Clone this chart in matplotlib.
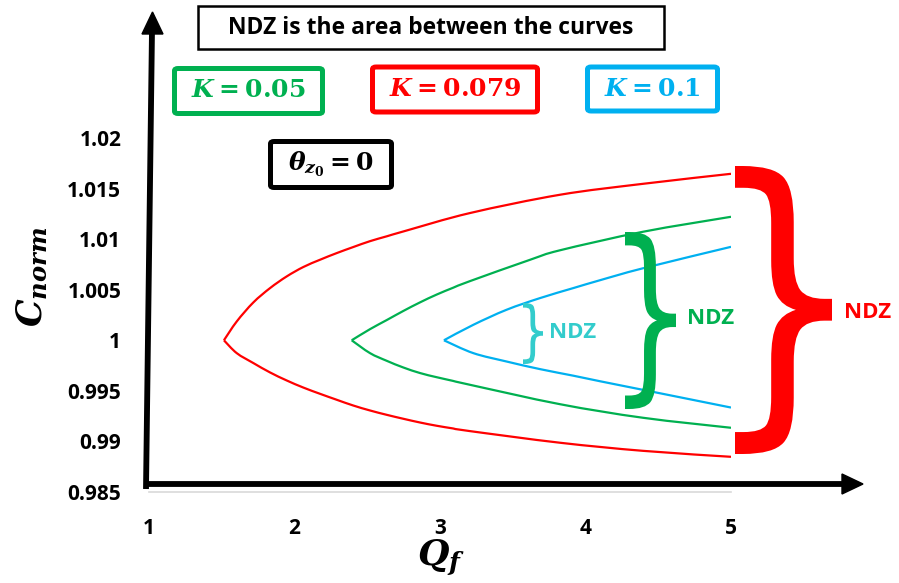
import numpy as np
import matplotlib
matplotlib.use("Agg")
import matplotlib.pyplot as plt
from matplotlib.patches import FancyBboxPatch, Polygon, PathPatch
from matplotlib.lines import Line2D
from matplotlib.path import Path
from matplotlib.textpath import TextPath
from matplotlib.font_manager import FontProperties
from matplotlib.transforms import Affine2D

W, H = 899, 583

# curves: (Q_f, C_norm)
red_up_q = [1.515, 1.603, 1.717, 1.832, 1.946, 2.06, 2.175, 2.29, 2.404, 2.519, 2.634, 2.77,
            3.206, 3.825, 4.395, 5.0]
red_up = [1.0, 1.00186, 1.00374, 1.00516, 1.00631, 1.00724, 1.00796, 1.00862, 1.00922, 1.0098,
          1.01028, 1.01085, 1.01258, 1.01439, 1.01547, 1.01646]
red_lo_q = [1.515, 1.603, 1.717, 1.832, 1.946, 2.06, 2.175, 2.29, 2.404, 2.519, 2.634, 2.748,
            2.863, 2.977, 3.091, 3.206, 3.825, 4.395, 5.0]
red_lo = [1.0, 0.99873, 0.99775, 0.99682, 0.99603, 0.99533, 0.99471, 0.99412, 0.99355, 0.99306,
          0.99263, 0.99224, 0.99187, 0.99155, 0.99128, 0.99102, 0.98987, 0.98907, 0.98848]

green_up_q = [2.393, 2.519, 2.634, 2.748, 2.863, 2.977, 3.091, 3.206, 3.619, 3.825, 4.395, 5.0]
green_up = [1.0, 1.0011, 1.002, 1.0029, 1.00375, 1.00452, 1.0052, 1.00585, 1.00796, 1.0089,
            1.01073, 1.01221]
green_lo_q = [2.393, 2.519, 2.634, 2.748, 2.863, 2.977, 3.091, 3.206, 3.825, 4.395, 5.0]
green_lo = [1.0, 0.99873, 0.99797, 0.99731, 0.99676, 0.99635, 0.99598, 0.9956, 0.99368, 0.99234,
            0.99135]

blue_q = [3.027, 3.229, 3.458, 3.687, 3.916, 4.1, 4.395, 5.0]
blue_up = [1.0, 1.00153, 1.00302, 1.00417, 1.00516, 1.00594, 1.00712, 1.00924]
blue_lo = [1.0, 0.99873, 0.9979, 0.99715, 0.9965, 0.99595, 0.9951, 0.99335]

x_ticks = [1, 2, 3, 4, 5]
y_ticks = [0.985, 0.99, 0.995, 1.0, 1.005, 1.01, 1.015, 1.02]
y_tick_labels = ["0.985", "0.99", "0.995", "1", "1.005", "1.01", "1.015", "1.02"]

RED = "#FF0000"
GREEN = "#00B050"
BLUE = "#00B0F0"
CYAN = "#33CCCC"

plt.rcParams["font.family"] = ["Open Sans", "DejaVu Sans"]
plt.rcParams["mathtext.fontset"] = "custom"
plt.rcParams["mathtext.it"] = "DejaVu Serif:italic:bold"
plt.rcParams["mathtext.rm"] = "DejaVu Serif:bold"
plt.rcParams["mathtext.bf"] = "DejaVu Serif:bold"


def fx(px):
    return px / W


def fy(py):
    return 1 - py / H


def smooth_line(ax, xs, ys, color):
    # smoothed line through the read points (like a spreadsheet "smooth line")
    p = np.column_stack([xs, ys])
    ext = np.vstack([p[0], p, p[-1]])
    verts = [p[0]]
    codes = [Path.MOVETO]
    for i in range(len(p) - 1):
        p0, p1, p2, p3 = ext[i], ext[i + 1], ext[i + 2], ext[i + 3]
        verts += [p1 + (p2 - p0) / 6, p2 - (p3 - p1) / 6, p2]
        codes += [Path.CURVE4] * 3
    ax.add_patch(PathPatch(Path(verts, codes), fill=False, ec=color, lw=1.6))


fig = plt.figure(figsize=(W / 100, H / 100), dpi=100)
ax = fig.add_axes([fx(149), fy(492), (731 - 149) / W, (492 - 138) / H])

smooth_line(ax, red_up_q, red_up, RED)
smooth_line(ax, red_lo_q, red_lo, RED)
smooth_line(ax, green_up_q, green_up, GREEN)
smooth_line(ax, green_lo_q, green_lo, GREEN)
smooth_line(ax, blue_q, blue_up, BLUE)
smooth_line(ax, blue_q, blue_lo, BLUE)

ax.set_xlim(1, 5)
ax.set_ylim(0.985, 1.02)
ax.set_xticks(x_ticks)
ax.set_xticklabels([str(v) for v in x_ticks])
ax.set_yticks(y_ticks)
ax.set_yticklabels(y_tick_labels)
ax.tick_params(length=0, labelsize=15)
ax.tick_params(axis="y", pad=20)
ax.tick_params(axis="x", pad=19)
for lab in ax.get_xticklabels() + ax.get_yticklabels():
    lab.set_fontweight("bold")
for s in ["top", "right", "left"]:
    ax.spines[s].set_visible(False)
ax.spines["bottom"].set_color("#d9d9d9")
ax.spines["bottom"].set_linewidth(1.2)
ax.patch.set_alpha(0)

# axis arrows
fig.add_artist(Line2D([fx(146), fx(152)], [fy(489), fy(30)], color="black", lw=4.2,
                      transform=fig.transFigure, solid_capstyle="butt"))
fig.add_artist(Polygon([(fx(142), fy(34)), (fx(163), fy(34)), (fx(152.5), fy(12))],
                       closed=True, color="black", transform=fig.transFigure))
fig.add_artist(Line2D([fx(144), fx(845)], [fy(484), fy(484)], color="black", lw=4.2,
                      transform=fig.transFigure, solid_capstyle="butt"))
fig.add_artist(Polygon([(fx(842), fy(474)), (fx(842), fy(494)), (fx(863), fy(484))],
                       closed=True, color="black", transform=fig.transFigure))

# axis labels
fig.text(fx(33), fy(277), r"$C_{norm}$", rotation=90, fontsize=25,
         ha="center", va="center")
fig.text(fx(441), fy(558), r"$Q_f$", fontsize=26, ha="center", va="center")


def box(x0, y0, x1, y1, color, lw, text, tcolor, size, rounded=False):
    style = "round,pad=0,rounding_size=0.004" if rounded else "square,pad=0"
    fig.add_artist(FancyBboxPatch((fx(x0), fy(y1)), (x1 - x0) / W, (y1 - y0) / H,
                                  boxstyle=style, fc="white", ec=color, lw=lw,
                                  transform=fig.transFigure))
    fig.text(fx((x0 + x1) / 2), fy((y0 + y1) / 2), text, color=tcolor,
             fontsize=size, ha="center", va="center", fontweight="bold")


box(198, 6, 664, 49, "black", 1.8, "NDZ is the area between the curves", "black", 16.5)
box(174.5, 68.5, 322.5, 113.5, GREEN, 3.6, r"$K=0.05$", GREEN, 18, rounded=True)
box(372.5, 67, 537.5, 112, RED, 3.6, r"$K=0.079$", RED, 18, rounded=True)
box(587.5, 67, 717.5, 111, BLUE, 3.6, r"$K=0.1$", BLUE, 18, rounded=True)
box(270.5, 141.5, 391.5, 187.5, "black", 3.6, r"$\theta_{z_0}=0$", "black", 18, rounded=True)


def brace(x0, x1, y0, y1, color):
    tp = TextPath((0, 0), "}", size=100, prop=FontProperties(family="DejaVu Sans"))
    ext = tp.get_extents()
    tr = (Affine2D().translate(-ext.x0, -ext.y0)
          .scale((x1 - x0) / ext.width / W, (y1 - y0) / ext.height / H)
          .translate(fx(x0), fy(y1)))
    fig.add_artist(PathPatch(tr.transform_path(tp), fc=color, lw=0,
                             transform=fig.transFigure))


brace(735, 832, 166, 454, RED)
brace(625, 676, 232, 409, GREEN)
brace(523, 543, 303, 364, CYAN)

fig.text(fx(868), fy(313), "NDZ", color=RED, fontsize=16, fontweight="bold", ha="center", va="center")
fig.text(fx(711), fy(319), "NDZ", color=GREEN, fontsize=16, fontweight="bold", ha="center", va="center")
fig.text(fx(573), fy(333), "NDZ", color=CYAN, fontsize=16, fontweight="bold", ha="center", va="center")

fig.savefig("out.png", dpi=100)
